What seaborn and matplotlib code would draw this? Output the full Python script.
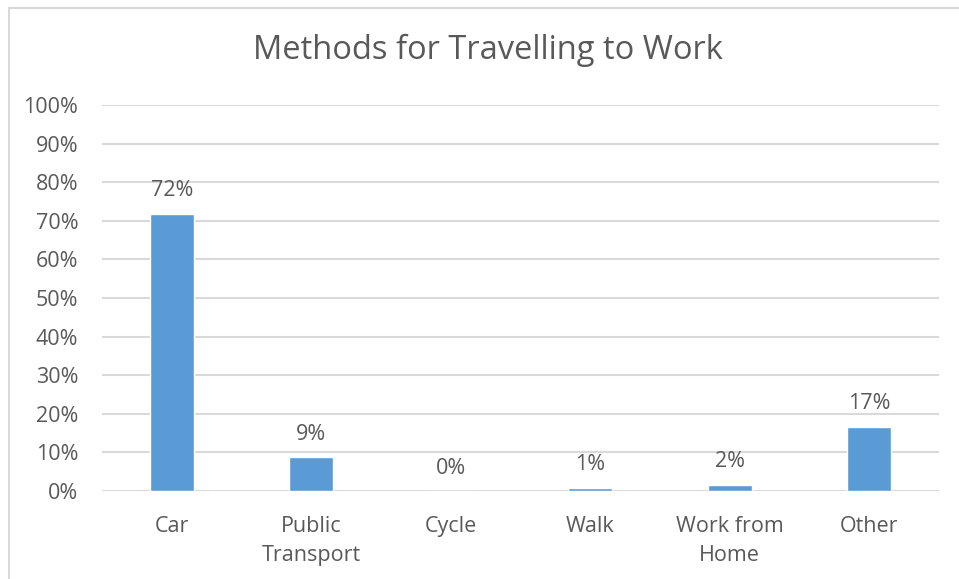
import matplotlib
matplotlib.use("Agg")
import matplotlib.pyplot as plt
import seaborn as sns
import pandas as pd
from matplotlib.lines import Line2D

categories = ["Car", "Public\nTransport", "Cycle", "Walk", "Work from\nHome", "Other"]
values = [71.8, 8.7, 0.0, 0.8, 1.6, 16.6]
labels = ["72%", "9%", "0%", "1%", "2%", "17%"]
yticks = [0, 10, 20, 30, 40, 50, 60, 70, 80, 90, 100]

sns.set_theme(style="white")
plt.rcParams['font.family'] = ['Open Sans', 'DejaVu Sans']

TXT = "#595959"
FS = 15.5
W, H = 959, 579
fig = plt.figure(figsize=(W / 100, H / 100), dpi=100)
ax = fig.add_axes([102 / W, 1 - 491 / H, (939 - 102) / W, (491 - 105) / H])

df = pd.DataFrame({"cat": categories, "val": values})
sns.barplot(data=df, x="cat", y="val", ax=ax, color="#5B9BD5", width=0.315,
            saturation=1, zorder=3)

ax.set_ylim(0, 100)
ax.set_xlim(-0.5, len(categories) - 0.5)
ax.set_yticks(yticks)
ax.set_yticklabels([f"{t}%" for t in yticks], fontsize=FS, color=TXT)
for t in ax.get_xticklabels():
    t.set_linespacing(1.5)
ax.tick_params(axis="x", labelsize=FS, labelcolor=TXT, length=0, pad=18)
ax.tick_params(axis="y", length=0, pad=17)
ax.set_xlabel("")
ax.set_ylabel("")
ax.grid(axis="y", color="#D9D9D9", linewidth=1.5, zorder=0)
for s in ax.spines.values():
    s.set_visible(False)

for i, (v, lab) in enumerate(zip(values, labels)):
    ax.annotate(lab, (i, v), xytext=(0, 9), textcoords="offset points",
                ha="center", va="bottom", fontsize=FS, color=TXT)

fig.text(0.5 * (253 + 722) / W, 1 - 50 / H, "Methods for Travelling to Work",
         ha="center", va="center", fontsize=23.5, color=TXT)

# chart border (left and top edges visible)
fig.add_artist(Line2D([8.5 / W, 8.5 / W], [0, 1 - 7.5 / H], transform=fig.transFigure,
                      color="#D9D9D9", linewidth=1.5))
fig.add_artist(Line2D([8.5 / W, 1], [1 - 7.5 / H, 1 - 7.5 / H], transform=fig.transFigure,
                      color="#D9D9D9", linewidth=1.5))

fig.savefig("out.png", dpi=100)
